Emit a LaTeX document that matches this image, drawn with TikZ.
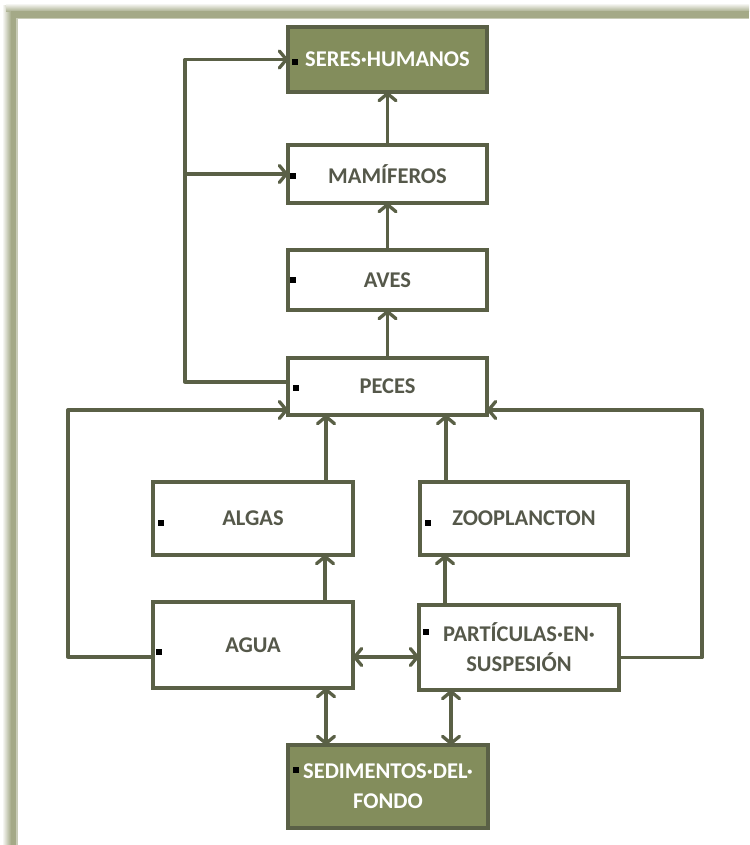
\documentclass[tikz,border=0pt]{standalone}
\usepackage{fontspec}
\setmainfont{Carlito}
\usetikzlibrary{arrows.meta,shadows}
\definecolor{lineol}{HTML}{5A6046}
\definecolor{fillol}{HTML}{838D5C}
\definecolor{frameol}{HTML}{A4A987}
\definecolor{txtgray}{HTML}{55584A}
\tikzset{
  box/.style={draw=lineol, line width=3.6pt, fill=white, text=txtgray,
    font=\fontsize{22.5}{30}\selectfont\bfseries, align=center,
    inner sep=0pt, outer sep=0pt, minimum width=199pt,
    drop shadow={opacity=0.12, shadow xshift=1.5pt, shadow yshift=-2pt}},
  gbox/.style={box, fill=fillol, text=white},
  conn/.style={draw=lineol, line width=3.3pt, line join=round},
  arr/.style={conn, -{Straight Barb[length=7pt,width=17pt,line join=round,line cap=round]}},
  darr/.style={conn, {Straight Barb[length=7pt,width=17pt,line join=round,line cap=round]}-{Straight Barb[length=7pt,width=17pt,line join=round,line cap=round]}},
  bul/.style={fill=black}
}
\begin{document}
\begin{tikzpicture}[x=1pt,y=-1pt]
\useasboundingbox (0,0) rectangle (749,845);
\fill[white] (0,0) rectangle (749,845);
% frame
\shade[left color=white, right color=frameol] (2,6) rectangle (11,845);
\fill[frameol] (11,11) rectangle (17,845);
\shade[top color=white, bottom color=frameol] (6,3) rectangle (749,12);
\fill[frameol] (11,11) rectangle (749,18);
\fill[frameol!60!white] (17,18) rectangle (749,19.5);
\fill[frameol!60!white] (16,18) rectangle (17.5,845);
% nodes
\node[gbox, minimum height=65pt] (seres) at (387.5,59.5) {SERES·HUMANOS};
\node[box, minimum height=58pt] (mam) at (387.5,174) {MAMÍFEROS};
\node[box, minimum height=60pt] (aves) at (387.5,280) {AVES};
\node[box, minimum height=57pt] (peces) at (387.5,386.5) {PECES};
\node[box, minimum width=200pt, minimum height=73pt] (algas) at (253,518.5) {ALGAS};
\node[box, minimum width=208pt, minimum height=73pt] (zoo) at (524,518.5) {ZOOPLANCTON};
\node[box, minimum width=200pt, minimum height=86pt] (agua) at (253,645) {AGUA};
\node[box, minimum width=200pt, minimum height=85pt] (part) at (519,647.5) {PARTÍCULAS·EN·\\SUSPESIÓN};
\node[gbox, minimum width=200pt, minimum height=83pt] (sed) at (388,786.5) {SEDIMENTOS·DEL·\\FONDO};
% bullets
\foreach \p in {(295,62),(293,176),(293,280),(296,388),(161,523),(428,523),(159,652),(426,632),(296,770)}
  \fill[bul] \p ++(-2.7,-2.7) rectangle ++(5.4,5.4);
% coordinates
\coordinate (lt) at (185,59.5);
\coordinate (lm) at (185,174);
\coordinate (ll) at (68,410);
\coordinate (rr) at (702,410);
% vertical chain
\draw[arr] (mam) -- (seres);
\draw[arr] (aves) -- (mam);
\draw[arr] (peces) -- (aves);
% left loop from peces
\draw[arr] ([yshift=4.5pt]peces.west) -| (lt) -- (seres.west);
\draw[arr] (lm) -- (mam.west);
% agua loop
\draw[arr] ([yshift=-12pt]agua.west) -| (ll) -- ([yshift=-23.5pt]peces.west);
% particulas loop
\draw[arr] ([yshift=-10pt]part.east) -| (rr) -- ([yshift=-23.5pt]peces.east);
% up arrows
\draw[arr] ([xshift=73pt]algas.north) -- ([xshift=73pt]algas.north |- peces.south);
\draw[arr] ([xshift=-78pt]zoo.north) -- ([xshift=-78pt]zoo.north |- peces.south);
\draw[arr] ([xshift=72pt]agua.north) -- ([xshift=72pt]agua.north |- algas.south);
\draw[arr] ([xshift=-74pt]part.north) -- ([xshift=-74pt]part.north |- zoo.south);
% double arrows
\draw[darr] ([yshift=-12pt]agua.east) -- ([yshift=-12pt]agua.east -| part.west);
\draw[darr] ([xshift=73pt]agua.south) -- ([xshift=73pt]agua.south |- sed.north);
\draw[darr] ([xshift=-68pt]part.south) -- ([xshift=-68pt]part.south |- sed.north);
\end{tikzpicture}
\end{document}
